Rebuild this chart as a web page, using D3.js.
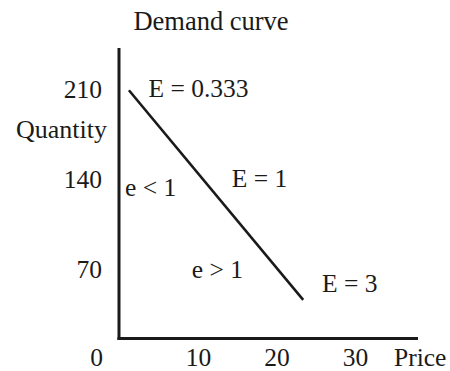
<!DOCTYPE html>
<html>
<head>
<meta charset="utf-8">
<script src="https://cdn.jsdelivr.net/npm/d3@7"></script>
<style>
  html, body { margin: 0; padding: 0; background: #fff; }
  svg { display: block; }
  text { font-family: "Liberation Serif", "Times New Roman", serif; fill: #1a1a1a; }
</style>
</head>
<body>
<svg id="chart" width="450" height="371"></svg>
<script>
// Demand curve: end points of the straight line (price, quantity)
const demandPrice = [1.2, 23.4];
const demandQty = [209, 46];

// Axis tick values and labels
const priceTicks = [10, 20, 30];
const qtyTicks = [70, 140, 210];
const originLabel = "0";

// Elasticity notes along the curve
const elasticityText = ["E = 0.333", "E = 1", "E = 3", "e < 1", "e > 1"];
const elasticityPrice = [3.7, 14.3, 25.8, 0.7, 9.2];
const elasticityQty = [204, 134, 52, 127, 63];

const title = "Demand curve";
const xTitle = "Price";
const yTitle = "Quantity";

const FONT = 25.5;
const BOTTOM_BASELINE = 365.5;
const svg = d3.select("#chart");

const x = d3.scaleLinear().domain([0, 30]).range([119.5, 355]);
const y = d3.scaleLinear().domain([0, 210]).range([359, 89]);

// Axis frame
const frame = { left: 119, top: 48, bottom: 338.5, right: 418 };
svg.append("line")
  .attr("x1", frame.left).attr("x2", frame.left)
  .attr("y1", frame.top).attr("y2", frame.bottom + 1.5)
  .attr("stroke", "#1a1a1a").attr("stroke-width", 3);
svg.append("line")
  .attr("x1", frame.left - 1.5).attr("x2", frame.right)
  .attr("y1", frame.bottom).attr("y2", frame.bottom)
  .attr("stroke", "#1a1a1a").attr("stroke-width", 3);

// Tick labels
const xAxis = svg.append("g")
  .attr("transform", `translate(0, ${BOTTOM_BASELINE})`)
  .call(d3.axisBottom(x).tickValues(priceTicks).tickSize(0).tickPadding(0).tickFormat(d3.format("d")));
const yAxis = svg.append("g")
  .attr("transform", `translate(${frame.left}, 0)`)
  .call(d3.axisLeft(y).tickValues(qtyTicks).tickSize(0).tickPadding(17).tickFormat(d3.format("d")));
[xAxis, yAxis].forEach(g => {
  g.select(".domain").remove();
  g.selectAll("text")
    .attr("font-family", "Liberation Serif, Times New Roman, serif")
    .attr("font-size", FONT)
    .attr("fill", "#1a1a1a");
});
// price labels sit on the baseline of the bottom row
xAxis.selectAll("text").attr("y", 0).attr("dy", null);

svg.append("text")
  .attr("x", 96.7).attr("y", BOTTOM_BASELINE)
  .attr("text-anchor", "middle").attr("font-size", FONT)
  .text(originLabel);

// Titles
svg.append("text")
  .attr("x", 211).attr("y", 30)
  .attr("text-anchor", "middle").attr("font-size", 26.5)
  .text(title);
svg.append("text")
  .attr("x", 394).attr("y", BOTTOM_BASELINE)
  .attr("font-size", FONT)
  .text(xTitle);
svg.append("text")
  .attr("x", 107).attr("y", 138)
  .attr("text-anchor", "end").attr("font-size", 26)
  .text(yTitle);

// Demand line
const pts = demandPrice.map((p, i) => [p, demandQty[i]]);
svg.append("path")
  .datum(pts)
  .attr("d", d3.line().x(d => x(d[0])).y(d => y(d[1])))
  .attr("fill", "none")
  .attr("stroke", "#1a1a1a")
  .attr("stroke-width", 2.6);

// Elasticity notes
svg.selectAll("text.note")
  .data(elasticityText)
  .join("text")
  .attr("class", "note")
  .attr("x", (d, i) => x(elasticityPrice[i]))
  .attr("y", (d, i) => y(elasticityQty[i]))
  .attr("font-size", FONT)
  .text(d => d);
</script>
</body>
</html>
